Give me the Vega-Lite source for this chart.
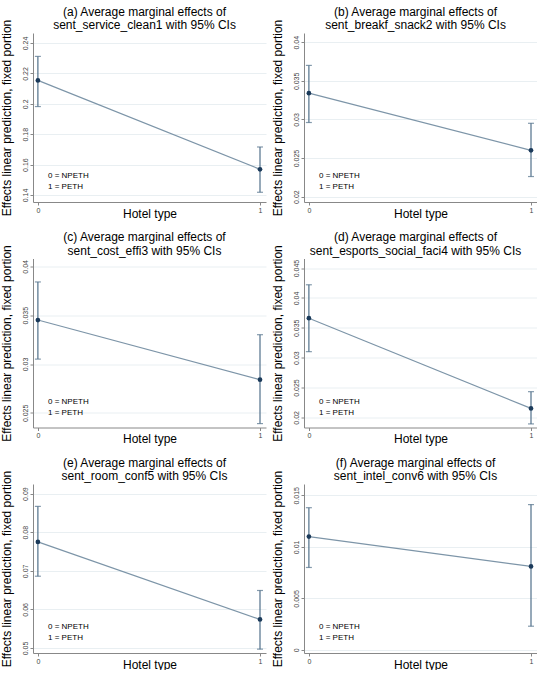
{
  "$schema": "https://vega.github.io/schema/vega-lite/v6.json",
  "background": "white",
  "padding": {"left": 0, "top": 5, "right": 0, "bottom": 0},
  "columns": 2,
  "spacing": {"row": 11.5, "column": 5},
  "resolve": {"scale": {"color": "independent"}, "legend": {"color": "independent"}},
  "concat": [
    {
      "width": 233, "height": 169,
      "title": {"text": ["(a) Average marginal effects of", "sent_service_clean1 with 95% CIs"]},
      "data": {"values": [
        {"hotel": 0, "margin": 0.2154, "lo": 0.1982, "hi": 0.2312},
        {"hotel": 1, "margin": 0.1569, "lo": 0.1418, "hi": 0.1716}
      ]},
      "encoding": {
        "x": {"field": "hotel", "type": "quantitative", "title": "Hotel type",
              "scale": {"domain": [-0.022, 1.027], "nice": false, "zero": false},
              "axis": {"values": [0, 1], "format": "d"}}
      },
      "layer": [
        {"mark": {"type": "line", "color": "#7d95a8", "strokeWidth": 1.2},
         "encoding": {"y": {"field": "margin", "type": "quantitative", "title": "Effects linear prediction, fixed portion",
                            "scale": {"domain": [0.1354, 0.2466], "nice": false, "zero": false},
                            "axis": {"values": [0.14, 0.16, 0.18, 0.2, 0.22, 0.24], "tickCount": 20, "format": "~g"}}}},
        {"mark": {"type": "errorbar", "color": "#51708a", "thickness": 1.2, "ticks": {"size": 6, "color": "#51708a"}},
         "encoding": {"y": {"field": "lo", "type": "quantitative", "title": "Effects linear prediction, fixed portion"},
                      "y2": {"field": "hi"}}},
        {"mark": {"type": "point", "filled": true, "size": 22, "opacity": 1},
         "encoding": {"y": {"field": "margin", "type": "quantitative"},
                      "color": {"field": "hotel", "type": "nominal", "scale": {"range": ["#1b3a5a", "#1b3a5a"]},
                                "legend": {"orient": "bottom-left", "offset": 11, "title": null, "symbolOpacity": 0, "symbolSize": 0, "labelOffset": -4, "labelFontSize": 8, "labelColor": "#000", "rowPadding": 3, "padding": 0,
                                           "labelExpr": "datum.label == '0' ? '0 = NPETH' : '1 = PETH'"}}}}
      ]
    },
    {
      "width": 233, "height": 169,
      "title": {"text": ["(b) Average marginal effects of", "sent_breakf_snack2 with 95% CIs"]},
      "data": {"values": [
        {"hotel": 0, "margin": 0.0334, "lo": 0.0296, "hi": 0.0370},
        {"hotel": 1, "margin": 0.0260, "lo": 0.0226, "hi": 0.0295}
      ]},
      "encoding": {
        "x": {"field": "hotel", "type": "quantitative", "title": "Hotel type",
              "scale": {"domain": [-0.022, 1.027], "nice": false, "zero": false},
              "axis": {"values": [0, 1], "format": "d"}}
      },
      "layer": [
        {"mark": {"type": "line", "color": "#7d95a8", "strokeWidth": 1.2},
         "encoding": {"y": {"field": "margin", "type": "quantitative", "title": "Effects linear prediction, fixed portion",
                            "scale": {"domain": [0.0193, 0.0412], "nice": false, "zero": false},
                            "axis": {"values": [0.02, 0.025, 0.03, 0.035, 0.04], "tickCount": 20, "format": "~g"}}}},
        {"mark": {"type": "errorbar", "color": "#51708a", "thickness": 1.2, "ticks": {"size": 6, "color": "#51708a"}},
         "encoding": {"y": {"field": "lo", "type": "quantitative", "title": "Effects linear prediction, fixed portion"},
                      "y2": {"field": "hi"}}},
        {"mark": {"type": "point", "filled": true, "size": 22, "opacity": 1},
         "encoding": {"y": {"field": "margin", "type": "quantitative"},
                      "color": {"field": "hotel", "type": "nominal", "scale": {"range": ["#1b3a5a", "#1b3a5a"]},
                                "legend": {"orient": "bottom-left", "offset": 11, "title": null, "symbolOpacity": 0, "symbolSize": 0, "labelOffset": -4, "labelFontSize": 8, "labelColor": "#000", "rowPadding": 3, "padding": 0,
                                           "labelExpr": "datum.label == '0' ? '0 = NPETH' : '1 = PETH'"}}}}
      ]
    },
    {
      "width": 233, "height": 169,
      "title": {"text": ["(c) Average marginal effects of", "sent_cost_effi3 with 95% CIs"]},
      "data": {"values": [
        {"hotel": 0, "margin": 0.0345, "lo": 0.0305, "hi": 0.0384},
        {"hotel": 1, "margin": 0.0284, "lo": 0.0239, "hi": 0.0330}
      ]},
      "encoding": {
        "x": {"field": "hotel", "type": "quantitative", "title": "Hotel type",
              "scale": {"domain": [-0.022, 1.027], "nice": false, "zero": false},
              "axis": {"values": [0, 1], "format": "d"}}
      },
      "layer": [
        {"mark": {"type": "line", "color": "#7d95a8", "strokeWidth": 1.2},
         "encoding": {"y": {"field": "margin", "type": "quantitative", "title": "Effects linear prediction, fixed portion",
                            "scale": {"domain": [0.0235, 0.0408], "nice": false, "zero": false},
                            "axis": {"values": [0.025, 0.03, 0.035, 0.04], "tickCount": 20, "format": "~g"}}}},
        {"mark": {"type": "errorbar", "color": "#51708a", "thickness": 1.2, "ticks": {"size": 6, "color": "#51708a"}},
         "encoding": {"y": {"field": "lo", "type": "quantitative", "title": "Effects linear prediction, fixed portion"},
                      "y2": {"field": "hi"}}},
        {"mark": {"type": "point", "filled": true, "size": 22, "opacity": 1},
         "encoding": {"y": {"field": "margin", "type": "quantitative"},
                      "color": {"field": "hotel", "type": "nominal", "scale": {"range": ["#1b3a5a", "#1b3a5a"]},
                                "legend": {"orient": "bottom-left", "offset": 11, "title": null, "symbolOpacity": 0, "symbolSize": 0, "labelOffset": -4, "labelFontSize": 8, "labelColor": "#000", "rowPadding": 3, "padding": 0,
                                           "labelExpr": "datum.label == '0' ? '0 = NPETH' : '1 = PETH'"}}}}
      ]
    },
    {
      "width": 233, "height": 169,
      "title": {"text": ["(d) Average marginal effects of", "sent_esports_social_faci4 with 95% CIs"]},
      "data": {"values": [
        {"hotel": 0, "margin": 0.0366, "lo": 0.0310, "hi": 0.0422},
        {"hotel": 1, "margin": 0.0215, "lo": 0.0189, "hi": 0.0243}
      ]},
      "encoding": {
        "x": {"field": "hotel", "type": "quantitative", "title": "Hotel type",
              "scale": {"domain": [-0.022, 1.027], "nice": false, "zero": false},
              "axis": {"values": [0, 1], "format": "d"}}
      },
      "layer": [
        {"mark": {"type": "line", "color": "#7d95a8", "strokeWidth": 1.2},
         "encoding": {"y": {"field": "margin", "type": "quantitative", "title": "Effects linear prediction, fixed portion",
                            "scale": {"domain": [0.0183, 0.0466], "nice": false, "zero": false},
                            "axis": {"values": [0.02, 0.025, 0.03, 0.035, 0.04, 0.045], "tickCount": 20, "format": "~g"}}}},
        {"mark": {"type": "errorbar", "color": "#51708a", "thickness": 1.2, "ticks": {"size": 6, "color": "#51708a"}},
         "encoding": {"y": {"field": "lo", "type": "quantitative", "title": "Effects linear prediction, fixed portion"},
                      "y2": {"field": "hi"}}},
        {"mark": {"type": "point", "filled": true, "size": 22, "opacity": 1},
         "encoding": {"y": {"field": "margin", "type": "quantitative"},
                      "color": {"field": "hotel", "type": "nominal", "scale": {"range": ["#1b3a5a", "#1b3a5a"]},
                                "legend": {"orient": "bottom-left", "offset": 11, "title": null, "symbolOpacity": 0, "symbolSize": 0, "labelOffset": -4, "labelFontSize": 8, "labelColor": "#000", "rowPadding": 3, "padding": 0,
                                           "labelExpr": "datum.label == '0' ? '0 = NPETH' : '1 = PETH'"}}}}
      ]
    },
    {
      "width": 233, "height": 169,
      "title": {"text": ["(e) Average marginal effects of", "sent_room_conf5 with 95% CIs"]},
      "data": {"values": [
        {"hotel": 0, "margin": 0.0775, "lo": 0.0686, "hi": 0.0867},
        {"hotel": 1, "margin": 0.0574, "lo": 0.0497, "hi": 0.0649}
      ]},
      "encoding": {
        "x": {"field": "hotel", "type": "quantitative", "title": "Hotel type",
              "scale": {"domain": [-0.022, 1.027], "nice": false, "zero": false},
              "axis": {"values": [0, 1], "format": "d"}}
      },
      "layer": [
        {"mark": {"type": "line", "color": "#7d95a8", "strokeWidth": 1.2},
         "encoding": {"y": {"field": "margin", "type": "quantitative", "title": "Effects linear prediction, fixed portion",
                            "scale": {"domain": [0.0487, 0.0925], "nice": false, "zero": false},
                            "axis": {"values": [0.05, 0.06, 0.07, 0.08, 0.09], "tickCount": 20, "format": "~g"}}}},
        {"mark": {"type": "errorbar", "color": "#51708a", "thickness": 1.2, "ticks": {"size": 6, "color": "#51708a"}},
         "encoding": {"y": {"field": "lo", "type": "quantitative", "title": "Effects linear prediction, fixed portion"},
                      "y2": {"field": "hi"}}},
        {"mark": {"type": "point", "filled": true, "size": 22, "opacity": 1},
         "encoding": {"y": {"field": "margin", "type": "quantitative"},
                      "color": {"field": "hotel", "type": "nominal", "scale": {"range": ["#1b3a5a", "#1b3a5a"]},
                                "legend": {"orient": "bottom-left", "offset": 11, "title": null, "symbolOpacity": 0, "symbolSize": 0, "labelOffset": -4, "labelFontSize": 8, "labelColor": "#000", "rowPadding": 3, "padding": 0,
                                           "labelExpr": "datum.label == '0' ? '0 = NPETH' : '1 = PETH'"}}}}
      ]
    },
    {
      "width": 233, "height": 169,
      "title": {"text": ["(f) Average marginal effects of", "sent_intel_conv6 with 95% CIs"]},
      "data": {"values": [
        {"hotel": 0, "margin": 0.0110, "lo": 0.0080, "hi": 0.0138},
        {"hotel": 1, "margin": 0.0081, "lo": 0.0023, "hi": 0.0141}
      ]},
      "encoding": {
        "x": {"field": "hotel", "type": "quantitative", "title": "Hotel type",
              "scale": {"domain": [-0.022, 1.027], "nice": false, "zero": false},
              "axis": {"values": [0, 1], "format": "d"}}
      },
      "layer": [
        {"mark": {"type": "line", "color": "#7d95a8", "strokeWidth": 1.2},
         "encoding": {"y": {"field": "margin", "type": "quantitative", "title": "Effects linear prediction, fixed portion",
                            "scale": {"domain": [-0.0003, 0.0161], "nice": false, "zero": false},
                            "axis": {"values": [0, 0.005, 0.01, 0.015], "tickCount": 20, "format": "~g"}}}},
        {"mark": {"type": "errorbar", "color": "#51708a", "thickness": 1.2, "ticks": {"size": 6, "color": "#51708a"}},
         "encoding": {"y": {"field": "lo", "type": "quantitative", "title": "Effects linear prediction, fixed portion"},
                      "y2": {"field": "hi"}}},
        {"mark": {"type": "point", "filled": true, "size": 22, "opacity": 1},
         "encoding": {"y": {"field": "margin", "type": "quantitative"},
                      "color": {"field": "hotel", "type": "nominal", "scale": {"range": ["#1b3a5a", "#1b3a5a"]},
                                "legend": {"orient": "bottom-left", "offset": 11, "title": null, "symbolOpacity": 0, "symbolSize": 0, "labelOffset": -4, "labelFontSize": 8, "labelColor": "#000", "rowPadding": 3, "padding": 0,
                                           "labelExpr": "datum.label == '0' ? '0 = NPETH' : '1 = PETH'"}}}}
      ]
    }
  ],
  "config": {
    "font": "Liberation Sans",
    "view": {"stroke": null, "fill": "white"},
    "title": {"font": "Liberation Sans", "fontSize": 12, "fontWeight": "normal", "color": "#000", "anchor": "middle", "frame": "group", "offset": -13, "lineHeight": 13.5, "dx": -5},
    "axis": {"titleFontWeight": "normal", "titleFontSize": 12, "titleColor": "#000", "labelFontSize": 7, "labelColor": "#444",
             "domainColor": "#888", "tickColor": "#888", "tickSize": 3, "labelFlush": false, "labelOverlap": false},
    "axisX": {"grid": false, "labelAngle": 0, "labelPadding": 1, "titlePadding": -5},
    "axisY": {"grid": true, "gridColor": "#e9eff2", "labelAngle": -90, "labelPadding": 2, "titlePadding": 8}
  }
}
